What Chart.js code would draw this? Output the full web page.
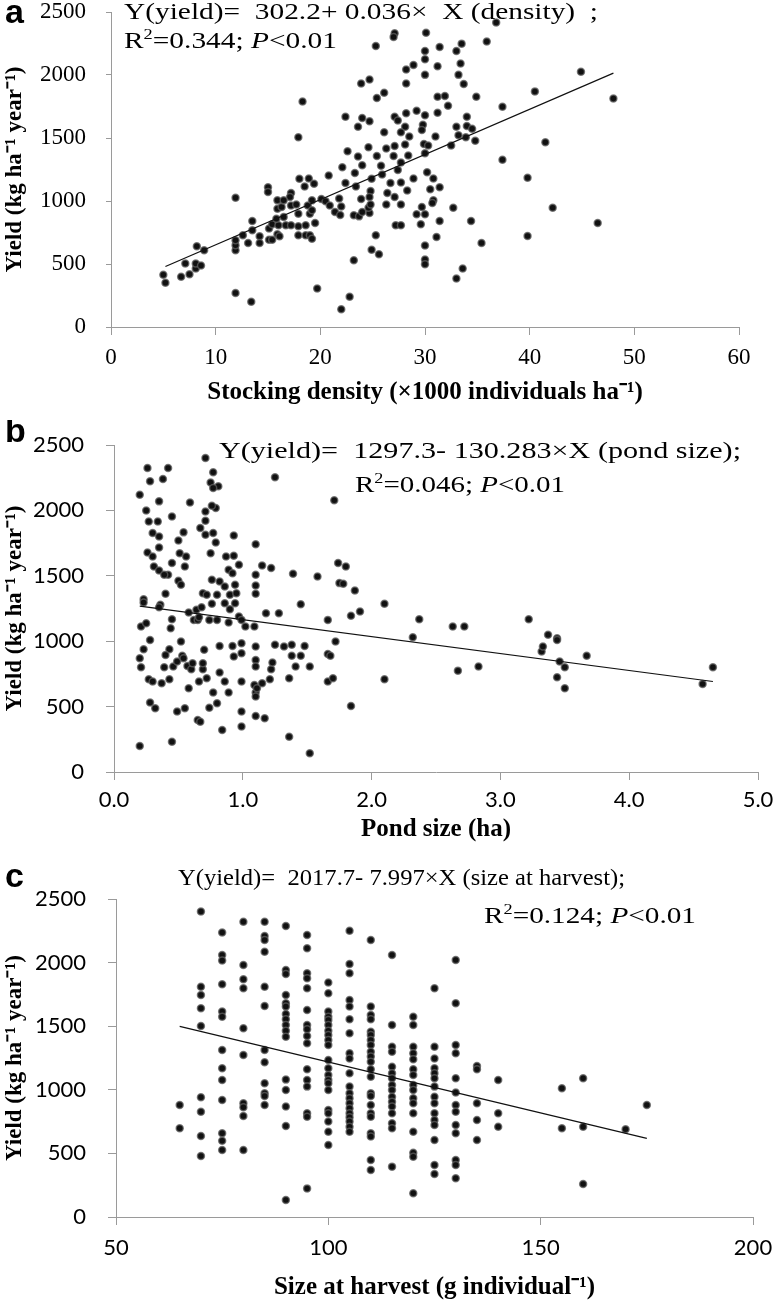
<!DOCTYPE html>
<html>
<head>
<meta charset="utf-8">
<script src="https://cdn.jsdelivr.net/npm/chart.js@4.4.1/dist/chart.umd.min.js"></script>
<style>
  html, body { margin: 0; background: #fff; overflow: hidden; }
  .panel { position: absolute; left: 0; }
</style>
</head>
<body>
<div class="panel" style="top:0"><canvas id="chartA" width="800" height="420"></canvas></div>
<div class="panel" style="top:420px"><canvas id="chartB" width="800" height="430"></canvas></div>
<div class="panel" style="top:850px"><canvas id="chartC" width="800" height="450"></canvas></div>
<script>
// panel a: stocking density (x1000 ind/ha) vs yield (kg/ha/yr)
const densityX = [36.8,27.1,30.1,27.0,35.9,33.5,31.4,25.3,33.0,30.0,30.0,33.4,31.2,28.9,28.2,44.9,33.2,30.0,24.7,23.9,
  28.2,33.7,40.5,26.1,31.2,31.9,25.4,34.9,48.0,18.3,32.2,37.4,29.2,28.2,31.2,22.4,24.0,24.7,27.1,30.0,
  34.0,23.6,27.4,34.0,34.5,33.0,29.8,28.1,29.7,26.1,27.7,33.9,34.8,33.2,31.0,17.9,41.5,28.5,24.6,29.9,
  30.3,32.5,28.1,27.1,26.3,22.6,23.6,25.4,27.0,28.4,30.0,37.4,22.1,24.0,25.8,27.7,27.4,30.2,23.3,28.9,
  30.8,39.8,20.8,18.0,18.9,24.9,25.9,22.4,23.4,26.7,27.7,31.4,30.5,15.0,15.0,18.5,19.4,17.2,28.3,26.4,
  24.8,11.9,15.9,17.1,20.1,21.8,23.9,24.7,27.1,30.8,
  20.5,20.9,21.4,21.9,22.0,23.2,23.7,24.0,24.7,24.6,24.8,26.3,27.7,29.7,29.2,30.0,30.7,32.7,29.6,27.2,
  27.7,31.4,34.4,42.2,46.5,25.3,31.1,35.4,39.8,30.0,24.9,25.6,23.2,30.0,30.0,33.6,33.0,22.8,22.0,19.7,
  13.4,11.9,5.0,5.2,7.1,6.7,7.5,8.1,8.1,8.6,8.2,8.9,11.9,11.9,11.9,12.6,13.1,13.5,13.5,14.2,
  14.2,15.1,15.1,15.4,15.4,15.9,16.0,15.8,15.9,16.1,16.3,16.5,16.7,17.2,17.2,17.7,17.9,17.9,17.9,18.6,
  18.6,18.8,19.0,19.0,19.2,19.5,19.2,19.2,16.5];
const densityY = [2416,2331,2336,2302,2265,2249,2223,2231,2191,2191,2125,2091,2070,2080,2044,2025,2001,2001,1964,1933,
  1933,1928,1870,1859,1827,1833,1817,1827,1814,1789,1756,1748,1717,1696,1701,1669,1659,1632,1669,1680,
  1669,1590,1638,1596,1574,1590,1606,1590,1564,1546,1546,1506,1479,1522,1511,1506,1466,1511,1427,1453,
  1440,1440,1448,1437,1416,1395,1353,1358,1358,1361,1379,1327,1268,1284,1279,1305,1247,1229,1223,1179,
  1179,1184,1202,1176,1179,1176,1210,1142,1115,1142,1147,1110,1094,1110,1071,1115,1137,1063,1084,1063,
  1079,1026,1005,1031,1015,1020,1015,1031,1031,1005,
  999,965,912,889,957,886,878,912,905,947,973,973,973,952,894,894,984,947,815,807,
  807,841,841,947,825,728,715,667,723,646,614,578,530,535,498,464,385,240,140,306,
  200,269,414,351,504,398,419,464,504,488,641,609,609,649,688,728,667,767,841,720,
  667,693,781,815,693,736,807,860,939,720,952,873,807,807,965,973,899,799,728,728,
  807,965,899,728,701,825,926,1005,1005];
const densityFitX = [5.2, 48];
const densityFitY = [480, 2015];

// panel b: pond size (ha) vs yield
const pondX = [0.20,0.26,0.42,0.28,0.38,0.71,0.77,0.75,0.81,0.77,1.25,1.71,0.25,0.35,0.45,0.59,0.27,0.34,0.71,0.79,
  0.76,0.71,0.30,0.35,0.54,0.50,0.67,0.71,0.77,0.79,0.93,1.10,0.26,0.35,0.30,0.31,0.35,0.42,0.39,0.45,
  0.51,0.56,0.55,0.50,0.52,0.75,0.76,0.82,0.69,0.72,0.80,0.89,0.92,0.87,0.93,0.97,0.94,0.90,0.86,0.95,
  0.94,0.90,0.86,1.10,1.10,1.10,1.15,1.22,1.39,1.58,1.74,1.80,1.75,1.78,1.87,1.45,2.10,0.40,0.23,0.23,
  0.36,0.35,0.45,0.58,0.62,0.65,0.66,0.64,0.68,0.74,0.76,0.80,0.89,0.97,0.99,1.02,1.09,1.18,1.28,1.66,
  1.84,1.91,2.37,2.63,2.72,3.22,3.37,3.44,2.32,0.21,0.25,0.44,
  0.20,0.21,0.23,0.28,0.27,0.30,0.28,0.32,0.20,0.37,0.39,0.43,0.43,0.40,0.46,0.49,0.53,0.54,0.49,0.55,
  0.45,0.52,0.58,0.57,0.60,0.61,0.65,0.67,0.66,0.69,0.69,0.72,0.70,0.74,0.77,0.80,0.82,0.82,0.86,0.84,
  0.89,0.92,0.93,0.99,0.99,0.99,0.99,0.99,1.10,1.10,1.10,1.09,1.10,1.10,1.10,1.11,1.17,1.15,1.21,1.22,
  1.23,1.25,1.32,1.38,1.38,1.36,1.41,1.36,1.45,1.48,1.52,1.52,1.66,1.68,1.66,1.70,1.72,1.84,2.10,2.67,
  2.83,3.32,3.33,3.44,3.44,3.46,3.50,3.50,3.67,4.57,4.65];
const pondY = [2120,2324,2324,2222,2240,2400,2291,2214,2184,2171,2253,2077,2000,2069,1954,2061,1916,1916,1992,2018,
  2036,1921,1827,1801,1832,1770,1865,1814,1827,1755,1809,1742,1679,1717,1648,1571,1541,1508,1508,1597,
  1673,1648,1571,1462,1431,1673,1469,1457,1367,1355,1355,1546,1520,1648,1653,1584,1431,1355,1418,1367,
  1291,1245,1291,1508,1426,1362,1579,1559,1515,1495,1597,1571,1444,1439,1388,1283,1286,1362,1321,1296,
  1278,1260,1168,1219,1163,1163,1184,1240,1260,1163,1286,1163,1143,1189,1163,1112,1112,1214,1214,1163,
  1194,1227,1168,1112,1112,1168,1049,1023,1031,1112,1138,1099,
  870,801,939,1010,709,691,531,487,199,679,801,709,939,895,806,844,888,870,462,487,
  232,997,640,811,786,832,398,385,691,786,832,717,934,492,607,526,760,964,691,321,
  607,964,883,908,985,462,347,691,959,857,806,666,607,577,429,640,411,679,709,786,
  837,972,959,972,888,717,806,270,888,964,806,143,903,888,691,717,997,505,709,775,
  806,921,959,1010,724,844,801,640,888,673,801];
const pondFitX = [0.2, 4.65];
const pondFitY = [1268, 692];

// panel c: size at harvest (g/ind) vs yield, grouped by size class
const harvestSizes = [65,70,75,80,85,90,95,100,105,110,115,120,125,130,135,140,155,160,170,175];
const harvestYields = [
  [881,697],
  [2401,1811,1746,1641,1502,941,828,637,480],
  [2236,2060,2016,1829,1615,1575,1313,1169,1077,920,658,600,527],
  [2322,1981,1869,1798,1484,1274,894,862,794,527],
  [2322,2210,2178,2086,1811,1659,1313,1216,1051,972,951,881],
  [2288,1942,1911,1746,1680,1654,1596,1554,1510,1465,1418,1080,999,868,716,134],
  [2217,2113,1916,1877,1798,1628,1510,1476,1423,1366,1161,1077,1025,815,789,225],
  [1843,1759,1615,1575,1549,1510,1465,1431,1392,1352,1234,1169,1116,1077,1051,999,841,815,750,671,566],
  [2251,1989,1916,1706,1654,1554,1444,1287,1247,1130,1025,972,933,894,854,815,784,750,710,671],
  [2178,1654,1588,1554,1457,1431,1392,1352,1300,1261,1221,1161,1103,972,951,881,815,789,658,632,448,370],
  [2060,1510,1339,1300,1182,1130,1090,1038,999,946,907,868,815,737,697,396],
  [1575,1510,1339,1287,1240,1161,1116,1038,999,933,894,815,671,506,474,186],
  [1798,1339,1247,1169,1130,1090,1025,946,894,815,763,724,605,409,338],
  [2021,1680,1352,1287,1090,978,881,828,724,658,448,409,304],
  [1187,1161,894,763,605],
  [1077,815,710],
  [1012,697],
  [1090,710,259],
  [689],
  [881]
];
const harvestFitX = [65, 175];
const harvestFitY = [1498, 618];

const serif = '"Liberation Serif", "Times New Roman", serif';
const sans = 'Lato, "Noto Sans", sans-serif';
const axisGray = '#9a9a9a';

function zip(xs, ys) { return xs.map((x, i) => ({ x: x, y: ys[i] })); }

// equation text and panel letter, stretched horizontally like the original figure
const eqPlugin = {
  id: 'eqText',
  afterDraw(chart, args, opts) {
    const ctx = chart.ctx;
    ctx.save();
    ctx.fillStyle = '#000';
    ctx.textAlign = 'left';
    ctx.textBaseline = 'alphabetic';
    ctx.font = 'bold 34px "Liberation Sans", Arial, sans-serif';
    ctx.fillText(opts.letter, 5, opts.letterY);
    const fontFor = p => (p.i ? 'italic ' : '') + (p.sup ? '15px ' : '24px ') + serif;
    opts.lines.forEach(line => {
      let w = 0;
      line.parts.forEach(p => { ctx.font = fontFor(p); w += ctx.measureText(p.t).width; });
      ctx.save();
      ctx.translate(line.x1, line.y);
      ctx.scale((line.x2 - line.x1) / w, 1);
      let x = 0;
      line.parts.forEach(p => {
        ctx.font = fontFor(p);
        ctx.fillText(p.t, x, p.sup ? -9 : 0);
        x += ctx.measureText(p.t).width;
      });
      ctx.restore();
    });
    ctx.restore();
  }
};

function buildChart(id, p) {
  return new Chart(document.getElementById(id), {
    type: 'scatter',
    data: {
      datasets: [
        { type: 'line', data: p.fit, borderColor: '#111', borderWidth: 1.2, pointRadius: 0, fill: false, order: 0 },
        { type: 'scatter', data: p.points, pointRadius: 3.5, pointBackgroundColor: '#111',
          pointBorderColor: 'rgba(95,95,95,0.75)', pointBorderWidth: 1.5, order: 1 }
      ]
    },
    options: {
      responsive: false,
      animation: false,
      layout: { padding: { top: p.top, right: 800 - p.right, left: 0, bottom: 0 } },
      plugins: { legend: { display: false }, tooltip: { enabled: false }, eqText: p.text },
      scales: {
        x: {
          type: 'linear', min: p.xMin, max: p.xMax,
          ticks: { stepSize: p.xStep, autoSkip: false, maxRotation: 0, color: '#000', padding: p.xPad,
                   font: { family: p.tickFont, size: p.tickSize, lineHeight: 1 }, callback: p.xFmt },
          grid: { drawOnChartArea: false, drawTicks: true, tickLength: 8, color: axisGray },
          border: { color: axisGray, width: 1 },
          title: { display: true, text: p.xTitle, color: '#000', padding: { top: 0, bottom: p.titlePad },
                   font: { family: serif, size: 25, weight: 'bold', lineHeight: 1 } },
          afterFit: s => { s.height = p.height - p.bottom; s.paddingLeft = 0; s.paddingRight = 0; }
        },
        y: {
          type: 'linear', min: 0, max: 2500,
          ticks: { stepSize: 500, color: '#000', padding: p.yPad, callback: v => String(v),
                   font: { family: p.tickFont, size: p.tickSize, lineHeight: 1 } },
          grid: { drawOnChartArea: false, drawTicks: true, tickLength: p.yTick, color: axisGray },
          border: { color: axisGray, width: 1 },
          title: { display: true, text: 'Yield (kg ha\u207B\u00B9 year\u207B\u00B9)', color: '#000',
                   padding: { top: 4, bottom: 0 },
                   font: { family: serif, size: 23, weight: 'bold', lineHeight: 1 } },
          afterFit: s => { s.width = p.left; s.paddingTop = 0; s.paddingBottom = 0; }
        }
      }
    },
    plugins: [eqPlugin]
  });
}

const r2 = v => [{ t: 'R' }, { t: '2', sup: true }, { t: '=' + v + '; ' }, { t: 'P', i: true }, { t: '<0.01' }];

buildChart('chartA', {
  points: zip(densityX, densityY), fit: zip(densityFitX, densityFitY),
  height: 420, top: 12, bottom: 327, left: 111, right: 739,
  xMin: 0, xMax: 60, xStep: 10, xFmt: v => String(v), xPad: 11, yPad: 20, yTick: 5,
  tickFont: serif, tickSize: 23, titlePad: 14.5,
  xTitle: 'Stocking density (\u00D71000 individuals ha\u207B\u00B9)',
  text: { letter: 'a', letterY: 23, lines: [
    { parts: [{ t: 'Y(yield)=  302.2+ 0.036\u00D7  X (density)  ;' }], x1: 124, x2: 598, y: 19 },
    { parts: r2('0.344'), x1: 124, x2: 337, y: 48 }
  ] }
});

buildChart('chartB', {
  points: zip(pondX, pondY), fit: zip(pondFitX, pondFitY),
  height: 430, top: 25, bottom: 352, left: 114, right: 758,
  xMin: 0, xMax: 5, xStep: 1, xFmt: v => Number(v).toFixed(1), xPad: 9, yPad: 22, yTick: 8,
  tickFont: sans, tickSize: 22, titlePad: 7.5,
  xTitle: 'Pond size (ha)',
  text: { letter: 'b', letterY: 22, lines: [
    { parts: [{ t: 'Y(yield)=  1297.3- 130.283\u00D7X (pond size);' }], x1: 219, x2: 741, y: 38 },
    { parts: r2('0.046'), x1: 355, x2: 565, y: 72 }
  ] }
});

buildChart('chartC', {
  points: harvestSizes.flatMap((s, i) => harvestYields[i].map(y => ({ x: s, y: y }))),
  fit: zip(harvestFitX, harvestFitY),
  height: 450, top: 49, bottom: 367, left: 116, right: 753,
  xMin: 50, xMax: 200, xStep: 50, xFmt: v => String(v), xPad: 12, yPad: 22, yTick: 8,
  tickFont: sans, tickSize: 22, titlePad: 0,
  xTitle: 'Size at harvest (g individual\u207B\u00B9)',
  text: { letter: 'c', letterY: 37, lines: [
    { parts: [{ t: 'Y(yield)=  2017.7- 7.997\u00D7X (size at harvest);' }], x1: 178, x2: 625, y: 35 },
    { parts: r2('0.124'), x1: 484, x2: 696, y: 73 }
  ] }
});
</script>
</body>
</html>
